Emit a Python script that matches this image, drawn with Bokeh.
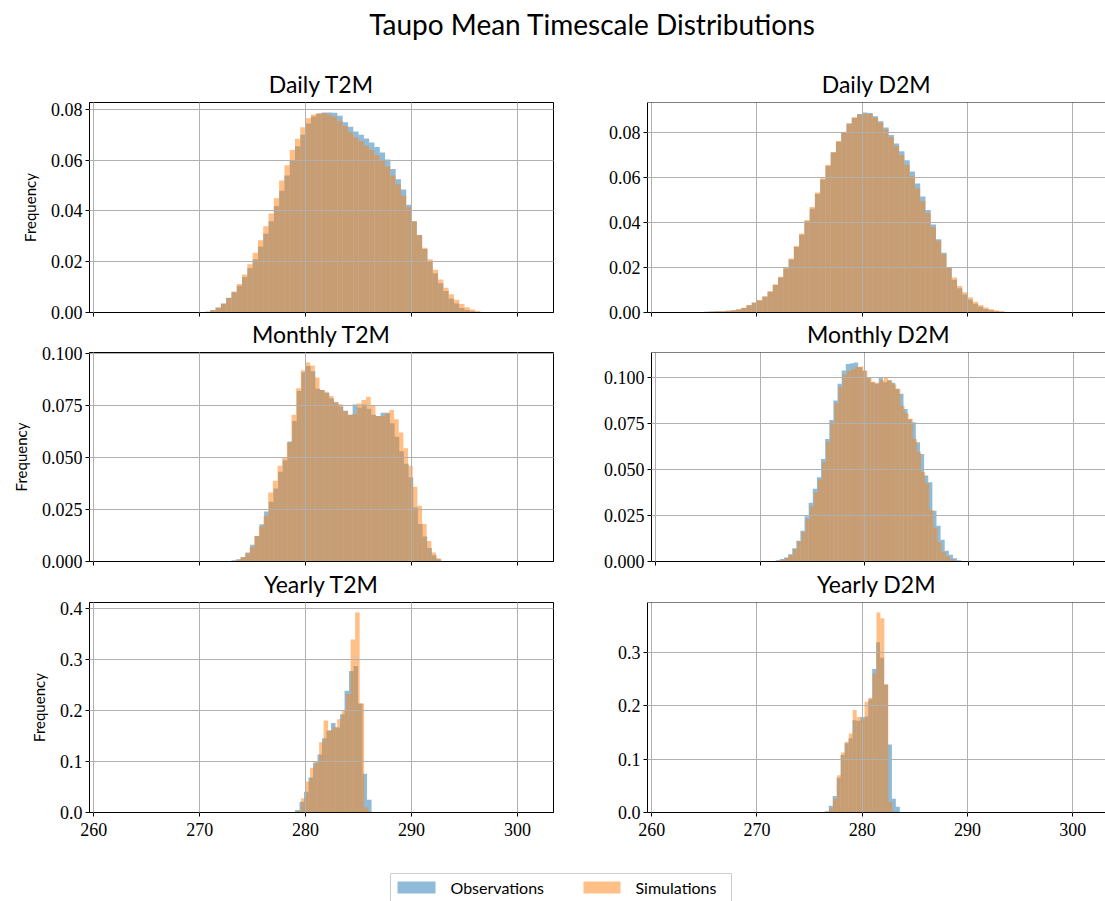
from bokeh.plotting import figure
from bokeh.layouts import column, row
from bokeh.models import Range1d, FixedTicker, PrintfTickFormatter, Span, CustomJSTickFormatter
from bokeh.core.properties import value
from bokeh.embed import file_html
from bokeh.resources import INLINE

# ---------------- data (densities) ----------------
suptitle = "Taupo Mean Timescale Distributions"
panel_titles = ["Daily T2M", "Daily D2M", "Monthly T2M", "Monthly D2M", "Yearly T2M", "Yearly D2M"]
series_names = ["Observations", "Simulations"]
x_ticks = [260, 270, 280, 290, 300]

# Daily T2M (bin width 0.5)
daily_t2m_obs_start, daily_t2m_obs_width = 270.0, 0.5
daily_t2m_obs = [0.0001, 0.0003, 0.001, 0.002, 0.0035, 0.0058, 0.008, 0.0105, 0.014, 0.0175,
                 0.021, 0.026, 0.031, 0.036, 0.042, 0.048, 0.054, 0.060, 0.0655, 0.070,
                 0.0745, 0.0772, 0.0783, 0.0788, 0.0788, 0.0787, 0.0775, 0.075, 0.0732, 0.0713,
                 0.070, 0.0686, 0.067, 0.0652, 0.063, 0.0603, 0.0565, 0.0525, 0.0485, 0.0425,
                 0.036, 0.0305, 0.025, 0.020, 0.0155, 0.0115, 0.0085, 0.0055, 0.0035, 0.0018,
                 0.001, 0.0005, 0.0002]
daily_t2m_sim_start, daily_t2m_sim_width = 270.0, 0.5
daily_t2m_sim = [0.0001, 0.0003, 0.0009, 0.0019, 0.0034, 0.0057, 0.0083, 0.0112, 0.015, 0.019,
                 0.0235, 0.0285, 0.034, 0.039, 0.045, 0.052, 0.058, 0.064, 0.0685, 0.073,
                 0.0765, 0.078, 0.0785, 0.0785, 0.078, 0.0772, 0.0755, 0.0735, 0.071, 0.069,
                 0.0675, 0.0658, 0.064, 0.062, 0.060, 0.0575, 0.054, 0.0505, 0.046, 0.0415,
                 0.036, 0.0305, 0.0255, 0.021, 0.0168, 0.013, 0.0098, 0.0072, 0.005, 0.0033,
                 0.0021, 0.0012, 0.0006, 0.0002]

# Daily D2M (bin width 0.5)
daily_d2m_obs_start, daily_d2m_obs_width = 262.0, 0.5
daily_d2m_obs = [0.0001, 0.0001, 0.0001, 0.0001, 0.0002, 0.0002, 0.0003, 0.0004, 0.0005, 0.0006,
                 0.0008, 0.001, 0.0013, 0.002, 0.0032, 0.0043, 0.0053, 0.007, 0.0092, 0.0122,
                 0.0155, 0.0195, 0.0235, 0.029, 0.0345, 0.0405, 0.046, 0.0525, 0.059, 0.065,
                 0.071, 0.0758, 0.080, 0.0838, 0.0864, 0.088, 0.0887, 0.0885, 0.087, 0.0848,
                 0.082, 0.0787, 0.075, 0.0715, 0.0675, 0.0625, 0.0572, 0.0515, 0.0455, 0.039,
                 0.0325, 0.0265, 0.020, 0.0145, 0.0108, 0.008, 0.0058, 0.0039, 0.0026, 0.0016,
                 0.001, 0.0006, 0.0003, 0.0001]
daily_d2m_sim_start, daily_d2m_sim_width = 262.0, 0.5
daily_d2m_sim = [0.0001, 0.0001, 0.0001, 0.0001, 0.0002, 0.0002, 0.0003, 0.0004, 0.0005, 0.0006,
                 0.0008, 0.001, 0.0014, 0.0021, 0.0033, 0.0044, 0.0055, 0.0072, 0.0094, 0.0125,
                 0.0158, 0.0198, 0.024, 0.0295, 0.035, 0.041, 0.0468, 0.0532, 0.0595, 0.0655,
                 0.0712, 0.076, 0.0802, 0.0838, 0.0865, 0.0878, 0.0882, 0.088, 0.0865, 0.0842,
                 0.0812, 0.0778, 0.0738, 0.0698, 0.0655, 0.0605, 0.055, 0.0495, 0.044, 0.0378,
                 0.0318, 0.026, 0.0202, 0.0155, 0.0118, 0.009, 0.0068, 0.0048, 0.0033, 0.0022,
                 0.0014, 0.0009, 0.0005, 0.0002]

# Monthly T2M
monthly_t2m_obs_start, monthly_t2m_obs_width = 273.0, 0.44
monthly_t2m_obs = [0.0006, 0.0011, 0.0022, 0.0043, 0.008, 0.0123, 0.0179, 0.024, 0.0287, 0.0351,
                   0.0431, 0.0487, 0.0577, 0.0676, 0.082, 0.091, 0.094, 0.0915, 0.083, 0.0825,
                   0.081, 0.0785, 0.0765, 0.0745, 0.0725, 0.0705, 0.0755, 0.074, 0.0755, 0.0735,
                   0.0705, 0.070, 0.0715, 0.0715, 0.0665, 0.060, 0.053, 0.047, 0.0405, 0.026,
                   0.018, 0.012, 0.0065, 0.003, 0.0011, 0.0003]
monthly_t2m_sim_start, monthly_t2m_sim_width = 272.95, 0.44
monthly_t2m_sim = [0.0003, 0.0008, 0.0019, 0.0038, 0.007, 0.0122, 0.0168, 0.022, 0.0332, 0.0388,
                   0.046, 0.050, 0.0572, 0.0705, 0.0833, 0.092, 0.0957, 0.0942, 0.0885, 0.0824,
                   0.0816, 0.0796, 0.0768, 0.0756, 0.0724, 0.0705, 0.0708, 0.076, 0.0776, 0.0792,
                   0.0748, 0.070, 0.070, 0.0712, 0.0728, 0.0684, 0.062, 0.0545, 0.046, 0.0359,
                   0.0268, 0.018, 0.0099, 0.0043, 0.0016, 0.0003]

# Monthly D2M
monthly_d2m_obs_start, monthly_d2m_obs_width = 271.5, 0.395
monthly_d2m_obs = [0.0007, 0.0013, 0.0022, 0.004, 0.0072, 0.0112, 0.0167, 0.0245, 0.0319, 0.0395,
                   0.0457, 0.0556, 0.0665, 0.0768, 0.0873, 0.0964, 0.1036, 0.1072, 0.1076, 0.108,
                   0.1054, 0.1036, 0.100, 0.0973, 0.0964, 0.100, 0.0973, 0.0982, 0.097, 0.0937,
                   0.091, 0.0828, 0.0772, 0.0755, 0.0647, 0.0583, 0.0466, 0.043, 0.0275, 0.0194,
                   0.0118, 0.0058, 0.0036, 0.0018, 0.0007]
monthly_d2m_sim_start, monthly_d2m_sim_width = 271.6, 0.395
monthly_d2m_sim = [0.0005, 0.001, 0.002, 0.0035, 0.0068, 0.011, 0.016, 0.023, 0.030, 0.0375,
                   0.0445, 0.054, 0.065, 0.0755, 0.086, 0.095, 0.1015, 0.1035, 0.1045, 0.1055,
                   0.1058, 0.1035, 0.100, 0.0975, 0.097, 0.0985, 0.0995, 0.0985, 0.096, 0.0935,
                   0.0845, 0.0805, 0.0775, 0.0665, 0.0595, 0.0485, 0.0425, 0.028, 0.0185, 0.0105,
                   0.0052, 0.0028, 0.0012, 0.0004, 0.0001]

# Yearly T2M
yearly_t2m_obs_start, yearly_t2m_obs_width = 279.0, 0.425
yearly_t2m_obs = [0.005, 0.021, 0.041, 0.069, 0.098, 0.114, 0.146, 0.161, 0.176, 0.167,
                  0.193, 0.239, 0.278, 0.288, 0.214, 0.076, 0.025]
yearly_t2m_sim_start, yearly_t2m_sim_width = 279.15, 0.425
yearly_t2m_sim = [0.003, 0.028, 0.061, 0.088, 0.10, 0.138, 0.181, 0.161, 0.168, 0.183,
                  0.20, 0.233, 0.340, 0.393, 0.214, 0.01]

# Yearly D2M
yearly_d2m_obs_start, yearly_d2m_obs_width = 276.44, 0.375
yearly_d2m_obs = [0.0025, 0.0125, 0.031, 0.065, 0.108, 0.130, 0.139, 0.173, 0.172, 0.179,
                  0.18, 0.2125, 0.269, 0.319, 0.29, 0.24, 0.1275, 0.026, 0.011]
yearly_d2m_sim_start, yearly_d2m_sim_width = 276.47, 0.375
yearly_d2m_sim = [0.0015, 0.0075, 0.026, 0.07, 0.1125, 0.1325, 0.148, 0.192, 0.179, 0.175,
                  0.2075, 0.215, 0.26, 0.375, 0.364, 0.24, 0.02, 0.002]

y_ticks_daily = [0.0, 0.02, 0.04, 0.06, 0.08]
y_ticks_monthly = [0.0, 0.025, 0.05, 0.075, 0.1]
y_ticks_yearly_t2m = [0.0, 0.1, 0.2, 0.3, 0.4]
y_ticks_yearly_d2m = [0.0, 0.1, 0.2, 0.3]

# ---------------- styling ----------------
BLUE = "#1f77b4"
ORANGE = "#ff7f0e"
SERIF = "Liberation Serif"
SANS = "Lato"
GRID = "#b0b0b0"

X_LEFT = (259.6, 303.4)
X_RIGHT = (259.6, 303.1)


def edges(start, width, n):
    left = [start + i * width for i in range(n)]
    right = [start + (i + 1) * width for i in range(n)]
    return left, right


def panel(title, obs, sim, yticks, yfmt, left_col, bottom_row, height, mtop, mbottom):
    (o_start, o_width, o_vals) = obs
    (s_start, s_width, s_vals) = sim
    ymax = 1.05 * max(max(o_vals), max(s_vals))
    xr = X_LEFT if left_col else X_RIGHT
    width = 600 if left_col else 505
    p = figure(width=width, height=height, title=title,
               x_range=Range1d(*xr), y_range=Range1d(0, ymax),
               output_backend="svg", toolbar_location=None,
               min_border_left=89 if left_col else 47,
               min_border_right=47 if left_col else 0,
               min_border_top=mtop, min_border_bottom=mbottom)
    p.border_fill_color = None
    p.title.text_font = SANS
    p.title.text_font_size = "23px"
    p.title.text_font_style = "normal"
    p.title.align = "center"
    p.title.vertical_align = "top"
    p.title.standoff = 5
    p.title.text_color = "black"

    ol, orr = edges(o_start, o_width, len(o_vals))
    sl, sr = edges(s_start, s_width, len(s_vals))
    p.quad(left=ol, right=orr, top=o_vals, bottom=0, fill_color=BLUE, fill_alpha=0.5, line_color=None)
    p.quad(left=sl, right=sr, top=s_vals, bottom=0, fill_color=ORANGE, fill_alpha=0.5, line_color=None)

    p.xaxis.ticker = FixedTicker(ticks=x_ticks)
    p.yaxis.ticker = FixedTicker(ticks=yticks)
    p.yaxis.formatter = PrintfTickFormatter(format=yfmt)
    for ax in (p.xaxis, p.yaxis):
        ax.major_tick_in = 0
        ax.major_tick_out = 4
        ax.minor_tick_line_color = None
        ax.axis_line_color = "black"
        ax.major_tick_line_color = "black"
        ax.major_label_text_font = SERIF
        ax.major_label_text_font_size = "18px"
        ax.major_label_text_color = "black"
        ax.major_label_standoff = 3
    p.xaxis.major_label_standoff = 6
    if not bottom_row:
        p.xaxis.formatter = CustomJSTickFormatter(code="return ''")
        p.xaxis.major_label_text_font_size = "0px"
        p.xaxis.major_label_standoff = 0
    if left_col:
        p.yaxis.axis_label = "Frequency"
        p.yaxis.axis_label_text_font = SANS
        p.yaxis.axis_label_text_font_size = "15px"
        p.yaxis.axis_label_text_font_style = "normal"
        p.yaxis.axis_label_text_color = "black"
        p.yaxis.axis_label_standoff = 9

    for g in (p.xgrid, p.ygrid):
        g.grid_line_color = GRID
        g.grid_line_width = 1
        g.level = "annotation"

    if left_col:
        p.outline_line_color = "black"
        p.outline_line_width = 1
        p.outline_line_alpha = 1
    else:
        p.outline_line_color = None
        p.add_layout(Span(location=ymax, dimension="width", line_color="black", line_width=1))
    return p


# rows overlap slightly (negative top margin) so that edge tick labels are never clipped
tl = panel(panel_titles[0], (daily_t2m_obs_start, daily_t2m_obs_width, daily_t2m_obs),
           (daily_t2m_sim_start, daily_t2m_sim_width, daily_t2m_sim), y_ticks_daily, "%.2f",
           True, False, 266, 42, 14)
tr = panel(panel_titles[1], (daily_d2m_obs_start, daily_d2m_obs_width, daily_d2m_obs),
           (daily_d2m_sim_start, daily_d2m_sim_width, daily_d2m_sim), y_ticks_daily, "%.2f",
           False, False, 266, 42, 14)
ml = panel(panel_titles[2], (monthly_t2m_obs_start, monthly_t2m_obs_width, monthly_t2m_obs),
           (monthly_t2m_sim_start, monthly_t2m_sim_width, monthly_t2m_sim), y_ticks_monthly, "%.3f",
           True, False, 265, 42, 14)
mr = panel(panel_titles[3], (monthly_d2m_obs_start, monthly_d2m_obs_width, monthly_d2m_obs),
           (monthly_d2m_sim_start, monthly_d2m_sim_width, monthly_d2m_sim), y_ticks_monthly, "%.3f",
           False, False, 265, 42, 14)
bl = panel(panel_titles[4], (yearly_t2m_obs_start, yearly_t2m_obs_width, yearly_t2m_obs),
           (yearly_t2m_sim_start, yearly_t2m_sim_width, yearly_t2m_sim), y_ticks_yearly_t2m, "%.1f",
           True, True, 292, 42, 40)
br = panel(panel_titles[5], (yearly_d2m_obs_start, yearly_d2m_obs_width, yearly_d2m_obs),
           (yearly_d2m_sim_start, yearly_d2m_sim_width, yearly_d2m_sim), y_ticks_yearly_d2m, "%.1f",
           False, True, 292, 42, 40)

# header with the overall title
header = figure(width=1105, height=60, x_range=Range1d(0, 1105), y_range=Range1d(60, 0),
                output_backend="svg", toolbar_location=None, min_border=0,
                x_axis_type=None, y_axis_type=None)
header.grid.visible = False
header.outline_line_color = None
header.border_fill_color = None
header.background_fill_color = None
header.text(x=[592], y=[23], text=[suptitle], text_font=value(SANS), text_font_size="28px",
            text_align="center", text_baseline="middle", text_color="black")

# footer with the legend
footer = figure(width=1105, height=49, x_range=Range1d(0, 1105), y_range=Range1d(49, 0),
                output_backend="svg", toolbar_location=None, min_border=0,
                x_axis_type=None, y_axis_type=None)
footer.grid.visible = False
footer.outline_line_color = None
footer.border_fill_color = None
footer.background_fill_color = None
footer.quad(left=[390], right=[731], top=[21], bottom=[70], fill_color="white",
            line_color="#cccccc", line_width=1)
footer.quad(left=[397, 583], right=[435, 620], top=[29, 29], bottom=[41, 41],
            fill_color=[BLUE, ORANGE], fill_alpha=0.5, line_color=None)
footer.text(x=[450, 635], y=[35, 35], text=series_names, text_font=value(SANS),
            text_font_size="16px", text_align="left", text_baseline="middle", text_color="black")

row1 = row(tl, tr)
row2 = row(ml, mr, margin=(-16, 0, 0, 0))
row3 = row(bl, br, margin=(-15, 0, 0, 0))
layout = column(header, row1, row2, row3, footer)

open("out.html", "w").write(file_html(layout, INLINE))
